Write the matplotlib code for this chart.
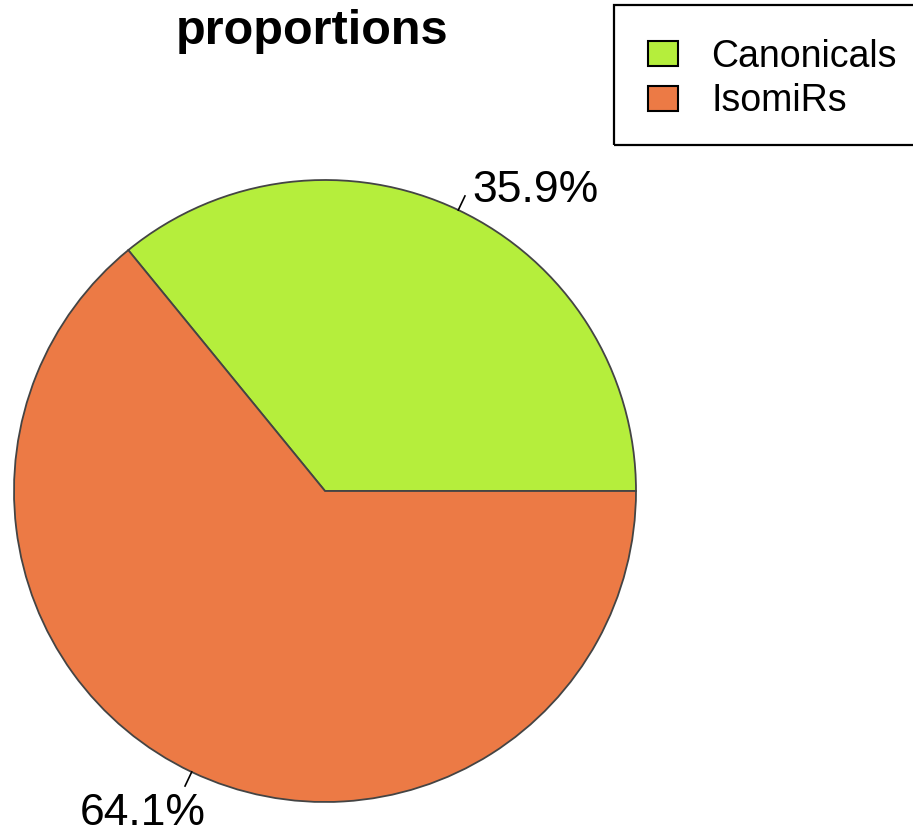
import numpy as np
import matplotlib.pyplot as plt
from matplotlib.patches import Rectangle

# Data
labels = ['Canonicals', 'IsomiRs']
values = [35.9, 64.1]
colors = ['#B5EE3C', '#EC7A45']
title = 'proportions'

plt.rcParams['font.family'] = ['Liberation Sans', 'DejaVu Sans']

W, H = 913, 836
fig = plt.figure(figsize=(W / 100, H / 100), dpi=100)
ax = fig.add_axes([0, 0, 1, 1])

# pie geometry in pixels
cx, cy, r = 325, 491, 311

wedges, _ = ax.pie(values, colors=colors, startangle=0, counterclock=True,
                   radius=1.0, center=(0, 0), frame=True,
                   wedgeprops=dict(edgecolor='#444444', linewidth=1.3))
ax.set_xlim(-cx / r, (W - cx) / r)
ax.set_ylim(-(H - cy) / r, cy / r)
ax.set_aspect('auto')
ax.axis('off')

# percentage labels with short tick lines
offsets = [(1, -9), (-36, -13)]   # pixel offsets of label from 1.1r point
aligns = ['left', 'center']
start = 0.0
total = sum(values)
for v, off, ha in zip(values, offsets, aligns):
    mid = np.deg2rad(start + v / total * 360 / 2)
    start += v / total * 360
    ux, uy = np.cos(mid), np.sin(mid)
    ax.plot([ux, 1.05 * ux], [uy, 1.05 * uy], color='black', lw=1.2)
    ax.annotate(f'{v:.1f}%', xy=(1.1 * ux, 1.1 * uy), xytext=off,
                textcoords='offset pixels', ha=ha, va='center',
                fontsize=32, color='black')

fig.text(312 / W, 1 - 31 / H, title, ha='center', va='center',
         fontsize=35, fontweight='bold')

# legend entries (frame drawn separately)
leg = fig.legend(wedges, labels, loc='upper left',
                 bbox_to_anchor=(614 / W, 1 - 5 / H), fontsize=27,
                 frameon=False, borderaxespad=0,
                 handlelength=0.8, handleheight=0.65, handletextpad=0.9,
                 borderpad=0.9, labelspacing=0.23)
for h in leg.legend_handles:
    h.set_edgecolor('black')
    h.set_linewidth(1.5)

fig.add_artist(Rectangle((614 / W, 1 - 145 / H), 310 / W, 140 / H,
                         transform=fig.transFigure, fill=False,
                         edgecolor='black', linewidth=1.6))

fig.savefig('out.png', dpi=100)
